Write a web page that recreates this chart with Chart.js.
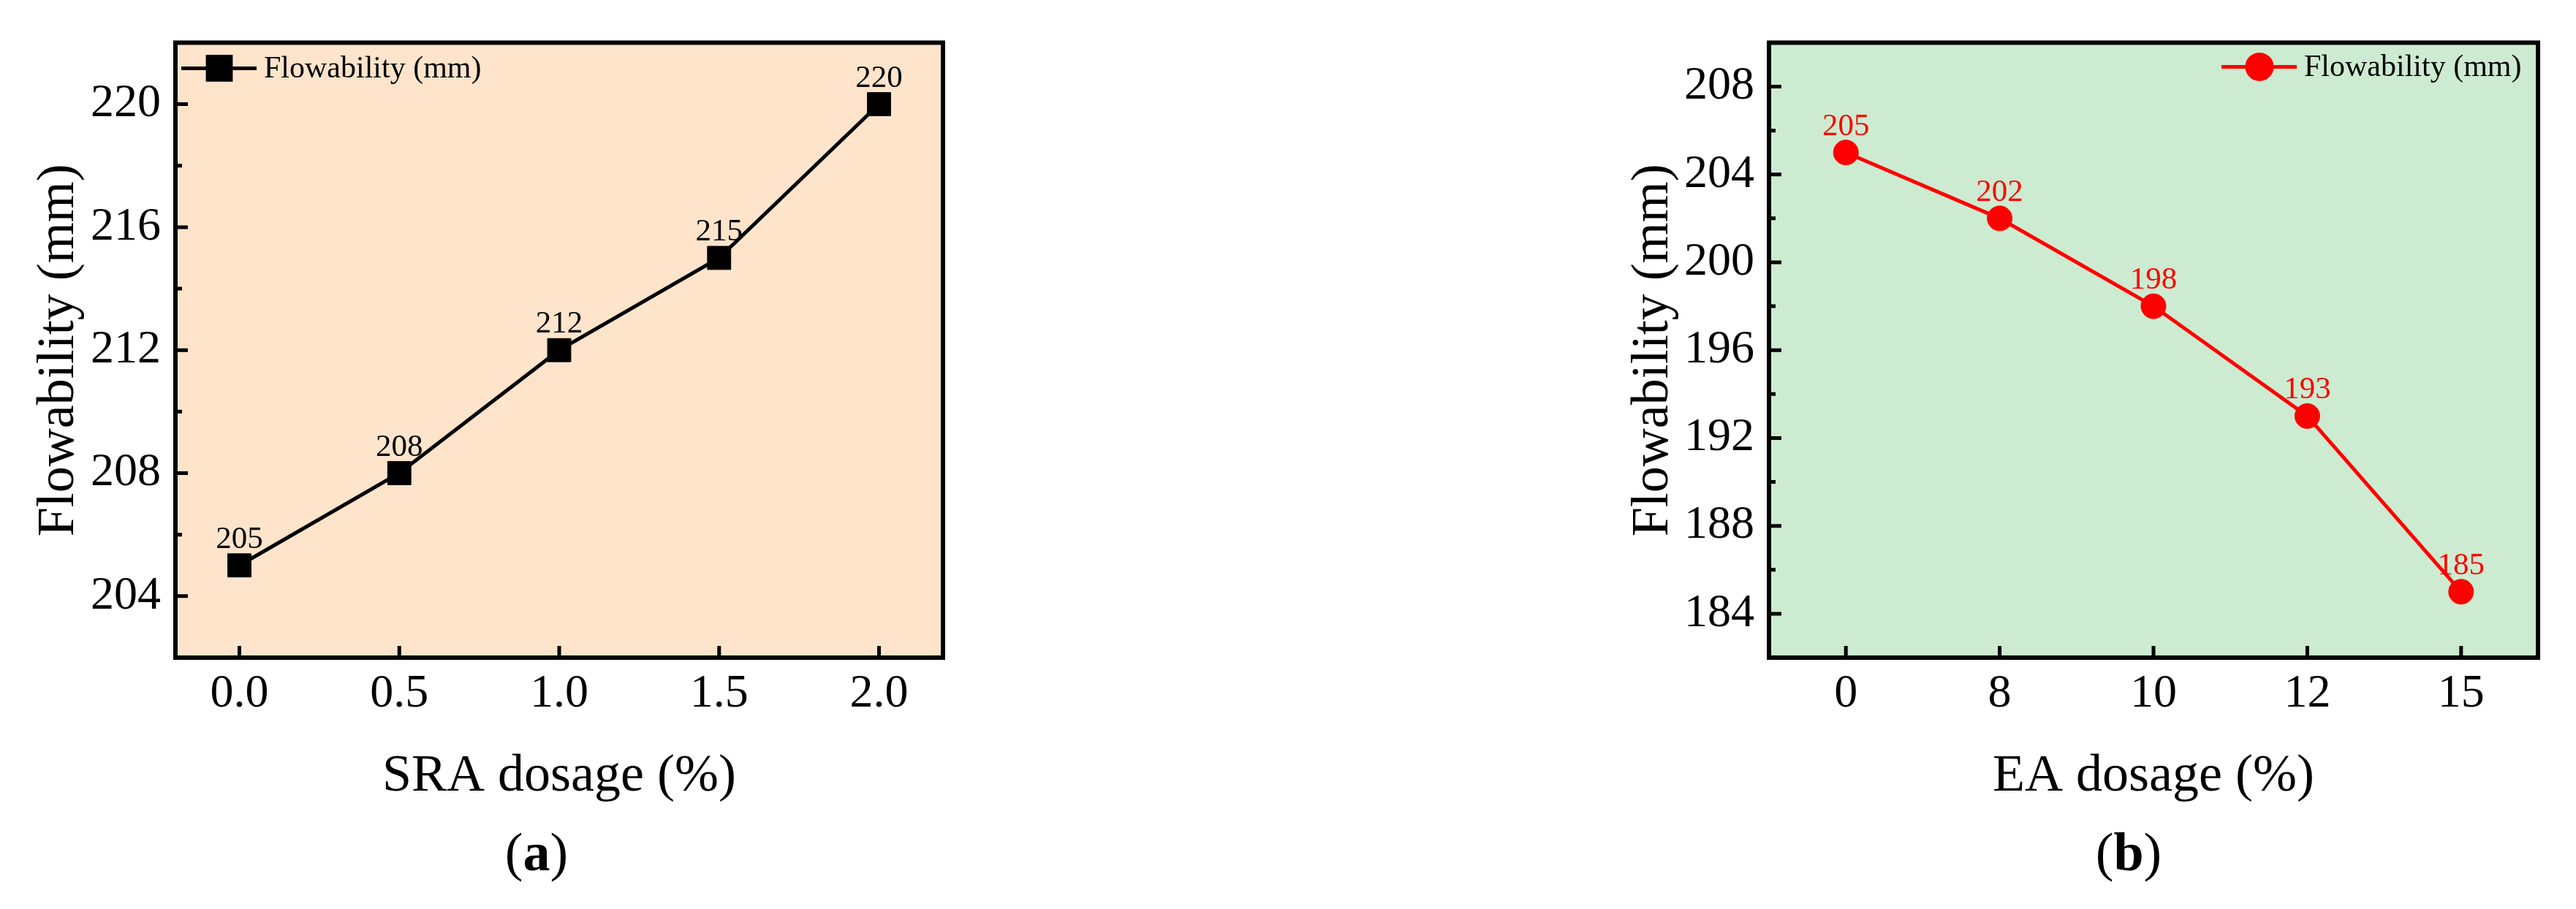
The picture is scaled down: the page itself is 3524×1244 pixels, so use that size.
<!DOCTYPE html>
<html><head><meta charset="utf-8">
<script src="https://cdn.jsdelivr.net/npm/chart.js@4/dist/chart.umd.min.js"></script>
<style>
html,body{margin:0;padding:0;background:#fff;width:3524px;height:1244px;overflow:hidden;}
canvas{position:absolute;top:0;}
#c1{left:0;} #c2{left:1760px;}
.lab{position:absolute;font-family:'Liberation Serif','Times New Roman',serif;font-size:74px;color:#000;transform:translate(-50%,-50%);top:1166px;white-space:nowrap;line-height:1;}
</style></head><body>
<canvas id="c1" width="1760" height="1244"></canvas>
<canvas id="c2" width="1764" height="1244"></canvas>
<div class="lab" style="left:734px">(<b>a</b>)</div>
<div class="lab" style="left:2912px">(<b>b</b>)</div>
<script>
// ---- data ----
const sraDosage = [0, 0.5, 1.0, 1.5, 2.0];
const sraFlow = [205, 208, 212, 215, 220];
const sraXTicks = [0, 0.5, 1.0, 1.5, 2.0];
const sraXTickLabels = ['0.0', '0.5', '1.0', '1.5', '2.0'];
const sraYTicks = [204, 208, 212, 216, 220];
const sraYMinor = [206, 210, 214, 218];

const eaDosage = ['0', '8', '10', '12', '15'];
const eaFlow = [205, 202, 198, 193, 185];
const eaYTicks = [184, 188, 192, 196, 200, 204, 208];
const eaYMinor = [186, 190, 194, 198, 202, 206];

const seriesName = 'Flowability (mm)';
const xTitleA = 'SRA dosage (%)';
const xTitleB = 'EA dosage (%)';
const yTitle = 'Flowability (mm)';

const FAM = "'Liberation Serif','Times New Roman',serif";

function framePlugin(cfg) {
  return {
    id: 'frame_' + cfg.name,
    beforeDraw(chart) {
      const {ctx, chartArea: a} = chart;
      ctx.save();
      ctx.fillStyle = cfg.bg;
      ctx.fillRect(a.left, a.top, a.right - a.left, a.bottom - a.top);
      ctx.restore();
    },
    afterDatasetsDraw(chart) {
      const {ctx, chartArea: a} = chart;
      const xs = chart.scales.x, ys = chart.scales.y;
      ctx.save();
      // data labels
      const meta = chart.getDatasetMeta(0);
      const ds = chart.data.datasets[0];
      ctx.fillStyle = cfg.labelColor;
      ctx.font = '43px ' + FAM;
      ctx.textAlign = 'center';
      ctx.textBaseline = 'alphabetic';
      meta.data.forEach((el, i) => {
        const d = ds.data[i];
        ctx.fillText(String(d && d.y !== undefined ? d.y : d), el.x, el.y - 24);
      });
      // ticks (inward)
      ctx.strokeStyle = '#000';
      ctx.lineWidth = 5;
      ctx.beginPath();
      ys.ticks.forEach(t => {
        const p = ys.getPixelForValue(t.value);
        ctx.moveTo(a.left, p); ctx.lineTo(a.left + 17, p);
      });
      cfg.minor.forEach(v => {
        const p = ys.getPixelForValue(v);
        ctx.moveTo(a.left, p); ctx.lineTo(a.left + 9, p);
      });
      xs.ticks.forEach((t, i) => {
        const p = xs.getPixelForTick(i);
        ctx.moveTo(p, a.bottom); ctx.lineTo(p, a.bottom - 16);
      });
      ctx.stroke();
      // frame
      ctx.lineWidth = 6;
      ctx.strokeRect(a.left, a.top, a.right - a.left, a.bottom - a.top);
      // legend
      const ly = a.top + cfg.legY;
      const lx = cfg.legRight ? a.right + cfg.legX : a.left + cfg.legX;
      ctx.strokeStyle = ds.borderColor;
      ctx.lineWidth = 5;
      ctx.beginPath();
      ctx.moveTo(lx, ly); ctx.lineTo(lx + 103, ly);
      ctx.stroke();
      ctx.fillStyle = ds.pointBackgroundColor;
      ctx.strokeStyle = ds.pointBorderColor;
      Chart.helpers.drawPoint(ctx, {pointStyle: ds.pointStyle, radius: ds.pointRadius, rotation: 0, borderWidth: 1}, lx + 52, ly);
      ctx.fillStyle = '#000';
      ctx.font = '42px ' + FAM;
      ctx.textAlign = 'left';
      ctx.textBaseline = 'middle';
      ctx.fillText(ds.label, lx + 113, ly + 2);
      ctx.restore();
    }
  };
}

function yScale(min, max, ticks, titlePad) {
  return {
    type: 'linear', min: min, max: max,
    afterBuildTicks: s => { s.ticks = ticks.map(v => ({value: v})); },
    afterFit: s => { s.width = 240; },
    grid: {display: false, drawTicks: false},
    border: {display: false},
    ticks: {padding: 20, color: '#000', font: {family: FAM, size: 64}},
    title: {display: true, text: yTitle, color: '#000', font: {family: FAM, size: 72}, padding: {top: titlePad, bottom: 0}}
  };
}

function xTitleCfg(text) {
  return {display: true, text: text, color: '#000', font: {family: FAM, size: 72}, padding: {top: 0, bottom: 138}};
}

new Chart(document.getElementById('c1'), {
  type: 'line',
  data: {
    datasets: [{
      label: seriesName,
      data: sraDosage.map((x, i) => ({x: x, y: sraFlow[i]})),
      borderColor: '#000', backgroundColor: '#000',
      borderWidth: 5, tension: 0,
      pointStyle: 'rect', pointRadius: 22.5, pointBorderWidth: 1,
      pointBackgroundColor: '#000', pointBorderColor: '#000'
    }]
  },
  options: {
    responsive: false, animation: false, devicePixelRatio: 1,
    layout: {padding: {left: 0, top: 55, right: 470, bottom: 0}},
    plugins: {legend: {display: false}, tooltip: {enabled: false}},
    scales: {
      x: {
        type: 'linear', min: -0.2, max: 2.2,
        afterBuildTicks: s => { s.ticks = sraXTicks.map(v => ({value: v})); },
        afterFit: s => { s.height = 344; },
        grid: {display: false, drawTicks: false},
        border: {display: false},
        ticks: {padding: 12, color: '#000', font: {family: FAM, size: 64}, callback: (v, i) => sraXTickLabels[i]},
        title: xTitleCfg(xTitleA)
      },
      y: yScale(202, 222, sraYTicks, 38)
    }
  },
  plugins: [framePlugin({name: 'a', bg: '#FDE4CB', labelColor: '#000', minor: sraYMinor, legX: 8, legY: 35, legRight: false})]
});

new Chart(document.getElementById('c2'), {
  type: 'line',
  data: {
    labels: eaDosage,
    datasets: [{
      label: seriesName,
      data: eaFlow,
      borderColor: '#FF0000', backgroundColor: '#FF0000',
      borderWidth: 5, tension: 0,
      pointStyle: 'circle', pointRadius: 17, pointBorderWidth: 1,
      pointBackgroundColor: '#FF0000', pointBorderColor: '#FF0000'
    }]
  },
  options: {
    responsive: false, animation: false, devicePixelRatio: 1,
    layout: {padding: {left: 420, top: 55, right: 52, bottom: 0}},
    plugins: {legend: {display: false}, tooltip: {enabled: false}},
    scales: {
      x: {
        type: 'category', offset: true,
        afterFit: s => { s.height = 344; },
        grid: {display: false, drawTicks: false, offset: true},
        border: {display: false},
        ticks: {padding: 12, color: '#000', font: {family: FAM, size: 64}},
        title: xTitleCfg(xTitleB)
      },
      y: yScale(182, 210, eaYTicks, 39)
    }
  },
  plugins: [framePlugin({name: 'b', bg: '#CDEBD0', labelColor: '#FF0000', minor: eaYMinor, legX: -433, legY: 33, legRight: true})]
});
</script>
</body></html>
